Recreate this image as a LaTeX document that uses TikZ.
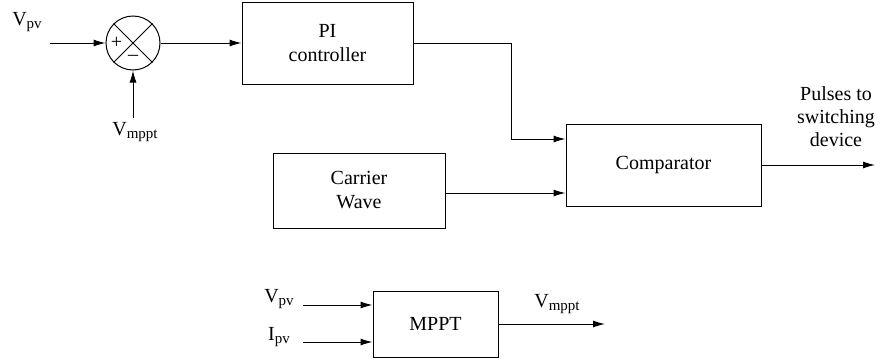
\documentclass[tikz,border=0pt]{standalone}
\usepackage{fontspec}
\setmainfont{Liberation Serif}
\usetikzlibrary{arrows.meta}
\newcommand{\sbs}[1]{\raisebox{-0.35ex}{\fontsize{15}{16}\selectfont #1}}
\begin{document}
\begin{tikzpicture}[x=1pt,y=-1pt,
  blk/.style={draw,line width=1pt,inner sep=0pt,font=\fontsize{20}{24}\selectfont,align=center},
  lbl/.style={font=\fontsize{20}{23}\selectfont,inner sep=0pt,align=center},
  sig/.style={line width=1pt,-{Latex[length=12pt,width=7pt]}}]
\useasboundingbox (0,0) rectangle (882,362);
% summing junction
\node[draw,circle,line width=1pt,minimum size=54pt,inner sep=0pt] (sum) at (133,43) {};
\draw[line width=1pt] (sum.north west) -- (sum.south east) (sum.north east) -- (sum.south west);
\node[lbl,font=\fontsize{20}{20}\selectfont] (plus) at (116.5,42.5) {+};
\node[lbl,font=\fontsize{20}{20}\selectfont] (minus) at (133,58) {--};
\node[lbl] (vpv) at (27,22) {V\sbs{pv}};
\coordinate (vpvs) at (50,43);
\node[lbl] (vmppt) at (135,132) {V\sbs{mppt}};
\coordinate (vms) at (133,118);
% blocks
\node[blk,minimum width=171pt,minimum height=82pt] (pi) at (327.5,43) {PI\\controller};
\node[blk,minimum width=195pt,minimum height=82pt] (cmp) at (663.5,165) {Comparator};
\node[blk,minimum width=172pt,minimum height=75pt] (car) at (359,190.5) {Carrier\\Wave};
\node[blk,minimum width=125pt,minimum height=66pt] (mppt) at (435.5,324) {MPPT};
% connectors
\draw[sig] (vpvs) -- (sum.west);
\draw[sig] (vms) -- (sum.south);
\draw[sig] (sum.east) -- (pi.west);
\draw[sig] (pi.east) -- (511,43) |- (cmp.west |- 0,139);
\draw[sig] (car.east |- 0,193) -- (cmp.west |- 0,193);
\coordinate (out) at (875,165);
\draw[sig] (cmp.east) -- (out);
\node[lbl] (pulses) at (836,117) {Pulses to\\switching\\device};
% MPPT
\node[lbl] (v2) at (279,299) {V\sbs{pv}};
\node[lbl] (i2) at (279,337) {I\sbs{pv}};
\coordinate (v2s) at (303,305);
\coordinate (i2s) at (303,342);
\draw[sig] (v2s) -- (mppt.west |- v2s);
\draw[sig] (i2s) -- (mppt.west |- i2s);
\coordinate (mout) at (605,324);
\draw[sig] (mppt.east) -- (mout);
\node[lbl] (vm2) at (557,304) {V\sbs{mppt}};
\end{tikzpicture}
\end{document}
